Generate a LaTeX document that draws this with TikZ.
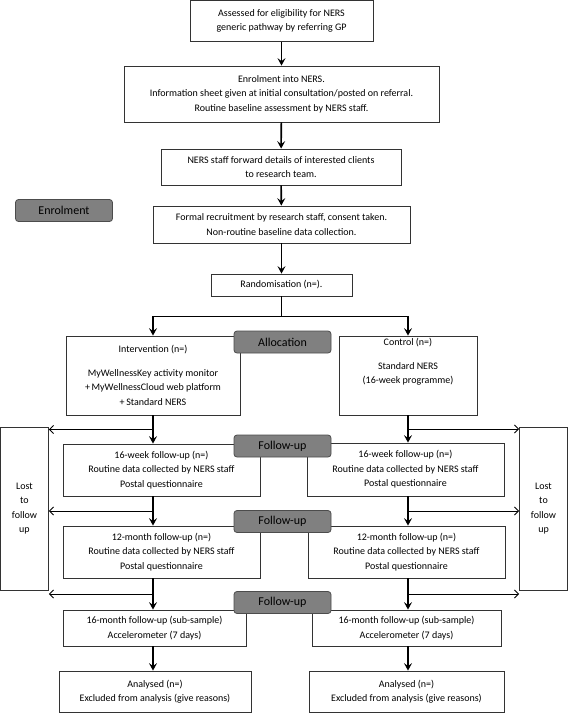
\documentclass[tikz,border=0pt]{standalone}
\usepackage{fontspec}
\setmainfont{Carlito}
\usetikzlibrary{arrows.meta, calc}

\begin{document}
\begin{tikzpicture}[
    x=1pt, y=-1pt,
    stagebox/.style={
        draw=black!80,
        line width=0.8pt,
        fill=white,
        align=center,
        inner sep=0pt,
        font=\fontsize{10}{14.5}\selectfont,
    },
    phase/.style={
        draw=black!70,
        line width=0.8pt,
        fill=black!50,
        rounded corners=3pt,
        inner sep=0pt,
        minimum width=97pt,
        minimum height=22pt,
        font=\fontsize{12}{14}\selectfont,
    },
    flow/.style={
        line width=1.6pt,
        -{Stealth[length=7.5pt, width=8pt, inset=3pt]},
    },
    trunk/.style={
        line width=1.6pt,
    },
    drop/.style={
        line width=0.9pt,
        -{Straight Barb[length=4pt, width=8pt]},
    }
]
    \useasboundingbox (0,0) rectangle (568,713);

    % Enrolment
    \node[stagebox, minimum width=183pt, minimum height=41pt] (assess) at (281.5,21)
        {Assessed for eligibility for NERS\\generic pathway by referring GP};
    \node[stagebox, minimum width=315pt, minimum height=56pt] (enrol) at (281.5,94)
        {Enrolment into NERS.\\Information sheet given at initial consultation/posted on referral.\\Routine baseline assessment by NERS staff.};
    \node[stagebox, minimum width=240pt, minimum height=36pt] (forward) at (281,167)
        {NERS staff forward details of interested clients\\to research team.};
    \node[stagebox, minimum width=257pt, minimum height=37pt] (recruit) at (281.5,224.5)
        {Formal recruitment by research staff, consent taken.\\Non-routine baseline data collection.};
    \node[stagebox, minimum width=141pt, minimum height=22pt] (rand) at (281.5,285)
        {Randomisation (n=).};

    % Allocation
    \node[stagebox, minimum width=174pt, minimum height=79pt] (interv) at (153,375.5)
        {Intervention (n=)\\[9pt]MyWellnessKey activity monitor\\+\,MyWellnessCloud web platform\\+\,Standard NERS};
    \node[stagebox, minimum width=138pt, minimum height=79pt] (control) at (408,375.5)
        {Control (n=)\\[9pt]Standard NERS\\(16-week programme)\\[14pt]\mbox{}};

    % Follow-up
    \node[stagebox, minimum width=197pt, minimum height=52pt] (wkint) at (161.5,470)
        {16-week follow-up (n=)\\Routine data collected by NERS staff\\Postal questionnaire};
    \node[stagebox, minimum width=197pt, minimum height=53pt] (wkcon) at (405.5,469.5)
        {16-week follow-up (n=)\\Routine data collected by NERS staff\\Postal questionnaire};
    \node[stagebox, minimum width=197pt, minimum height=52pt] (yrint) at (161.5,552)
        {12-month follow-up (n=)\\Routine data collected by NERS staff\\Postal questionnaire};
    \node[stagebox, minimum width=197pt, minimum height=52pt] (yrcon) at (406.5,552)
        {12-month follow-up (n=)\\Routine data collected by NERS staff\\Postal questionnaire};
    \node[stagebox, minimum width=183pt, minimum height=36pt] (moint) at (154.5,628)
        {16-month follow-up (sub-sample)\\Accelerometer (7 days)};
    \node[stagebox, minimum width=189pt, minimum height=36pt] (mocon) at (406.5,628)
        {16-month follow-up (sub-sample)\\Accelerometer (7 days)};
    \node[stagebox, minimum width=48pt, minimum height=163pt] (lostint) at (24.5,508.5)
        {Lost\\to\\follow\\up};
    \node[stagebox, minimum width=48pt, minimum height=163pt] (lostcon) at (543.5,508.5)
        {Lost\\to\\follow\\up};

    % Analysis
    \node[stagebox, minimum width=192pt, minimum height=41pt] (anaint) at (155,691.5)
        {Analysed (n=)\\Excluded from analysis (give reasons)};
    \node[stagebox, minimum width=195pt, minimum height=41pt] (anacon) at (406.5,691.5)
        {Analysed (n=)\\Excluded from analysis (give reasons)};

    % Main flow
    \draw[flow] (assess) -- (enrol);
    \draw[flow] (enrol) -- (forward);
    \draw[flow] (forward) -- (recruit);
    \draw[flow] (recruit) -- (rand);
    \draw[trunk] (rand.south) -- ++(0,20) coordinate (split);
    \draw[flow] (split) -| (interv.north);
    \draw[flow] (split) -| (control.north);

    % Intervention arm
    \coordinate (iA) at ($(interv.south)!0.5!(interv.south |- wkint.north)$);
    \coordinate (iB) at ($(interv.south |- wkint.south)!0.5!(interv.south |- yrint.north)$);
    \coordinate (iC) at ($(interv.south |- yrint.south)!0.5!(interv.south |- moint.north)$);
    \draw[flow] (interv.south) -- (interv.south |- wkint.north);
    \draw[flow] (interv.south |- wkint.south) -- (interv.south |- yrint.north);
    \draw[flow] (interv.south |- yrint.south) -- (interv.south |- moint.north);
    \draw[flow] (interv.south |- moint.south) -- (interv.south |- anaint.north);
    \draw[drop] (iA) -- (lostint.east |- iA);
    \draw[drop] (iB) -- (lostint.east |- iB);
    \draw[drop] (iC) -- (lostint.east |- iC);

    % Control arm
    \coordinate (cA) at ($(control.south)!0.5!(control.south |- wkcon.north)$);
    \coordinate (cB) at ($(control.south |- wkcon.south)!0.5!(control.south |- yrcon.north)$);
    \coordinate (cC) at ($(control.south |- yrcon.south)!0.5!(control.south |- mocon.north)$);
    \draw[flow] (control.south) -- (control.south |- wkcon.north);
    \draw[flow] (control.south |- wkcon.south) -- (control.south |- yrcon.north);
    \draw[flow] (control.south |- yrcon.south) -- (control.south |- mocon.north);
    \draw[flow] (control.south |- mocon.south) -- (control.south |- anacon.north);
    \draw[drop] (cA) -- (lostcon.west |- cA);
    \draw[drop] (cB) -- (lostcon.west |- cB);
    \draw[drop] (cC) -- (lostcon.west |- cC);

    % Phase labels
    \node[phase] (enrolphase) at (64,210.5) {Enrolment};
    \node[phase] (allocphase) at (282.5,342) {Allocation};
    \node[phase] (wkphase) at (282.5,446) {Follow-up};
    \node[phase] (yrphase) at (282.5,521.5) {Follow-up};
    \node[phase] (mophase) at (282.5,602.5) {Follow-up};
\end{tikzpicture}
\end{document}
